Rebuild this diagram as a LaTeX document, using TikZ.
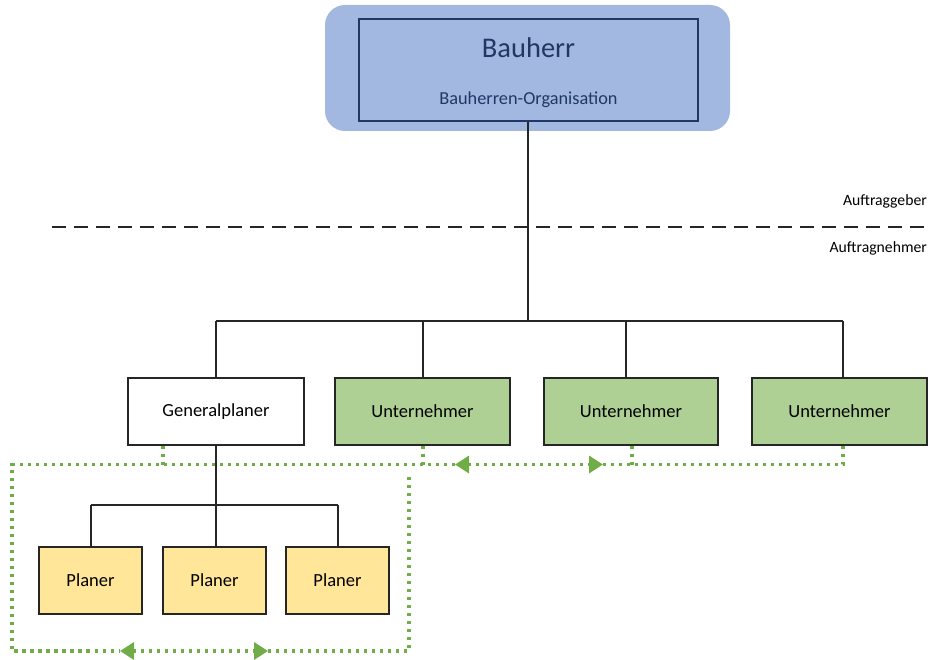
\documentclass[tikz,border=0pt]{standalone}
\usepackage{fontspec}
\setmainfont{Carlito}
\usetikzlibrary{arrows.meta}
\definecolor{bhblue}{HTML}{A2B8E0}
\definecolor{bhtext}{HTML}{203864}
\definecolor{ugreen}{HTML}{AFD095}
\definecolor{pyellow}{HTML}{FFE699}
\definecolor{dotgreen}{HTML}{70AD47}
\tikzset{
  orgbox/.style={draw=black!85, line width=1.2pt, inner sep=0pt, font=\fontsize{18.5}{20}\selectfont},
  tree/.style={draw=black!85, line width=1.2pt},
  greendot/.style={draw=dotgreen, line width=3.3pt, dash pattern=on 3.3pt off 4.7pt},
  gtips/.style={{Triangle[length=14pt,width=17pt]}-{Triangle[length=14pt,width=17pt]}},
  sidelabel/.style={anchor=east, inner sep=0pt, font=\fontsize{15.7}{17}\selectfont},
}
\begin{document}
\begin{tikzpicture}[x=1pt,y=-1pt]
\useasboundingbox (0,0) rectangle (931,660);
% Bauherr
\node[fill=bhblue, rounded corners=20pt, minimum width=405pt, minimum height=126pt, inner sep=0pt] (outer) at (527.5,68) {};
\node[draw=bhtext, line width=1.2pt, minimum width=339pt, minimum height=102pt, inner sep=0pt] (bauherr) at (528.5,70) {};
\node[text=bhtext, font=\fontsize{28.5}{30}\selectfont, inner sep=0pt] (bhtitle) at (528.5,48) {Bauherr};
\node[text=bhtext, font=\fontsize{18.3}{20}\selectfont, inner sep=0pt] (bhsub) at (528.5,100) {Bauherren-Organisation};
% divider
\coordinate (dl) at (52,227);
\coordinate (dr) at (927,227);
\draw[black!85, line width=1.6pt, dash pattern=on 14pt off 8pt] (dl) -- (dr);
\node[sidelabel] (ag) at (927,201) {Auftraggeber};
\node[sidelabel] (an) at (927,248) {Auftragnehmer};
% second level boxes
\node[orgbox, fill=white, minimum width=176pt, minimum height=67pt] (gp) at (216,411.5) {Generalplaner};
\node[orgbox, fill=ugreen, minimum width=175pt, minimum height=67pt] (u1) at (422.5,411.5) {Unternehmer};
\node[orgbox, fill=ugreen, minimum width=174pt, minimum height=67pt] (u2) at (631,411.5) {Unternehmer};
\node[orgbox, fill=ugreen, minimum width=175pt, minimum height=67pt] (u3) at (839.5,411.5) {Unternehmer};
% planers
\node[orgbox, fill=pyellow, minimum width=103pt, minimum height=67pt] (p1) at (90.5,580.5) {Planer};
\node[orgbox, fill=pyellow, minimum width=103pt, minimum height=67pt] (p2) at (214.5,580.5) {Planer};
\node[orgbox, fill=pyellow, minimum width=103pt, minimum height=67pt] (p3) at (337.5,580.5) {Planer};
% tree lines
\coordinate (bus) at (528,321);
\draw[tree] (bauherr.south -| bus) -- (bus);
\draw[tree] (216,321) -- (843,321);
\draw[tree] (216,321) -- (gp.north -| 216,0);
\draw[tree] (423,321) -- (u1.north -| 423,0);
\draw[tree] (626,321) -- (u2.north -| 626,0);
\draw[tree] (843,321) -- (u3.north -| 843,0);
\draw[tree] (gp.south) -- (216,505);
\draw[tree] (91,505) -- (338,505);
\draw[tree] (91,505) -- (p1.north -| 91,0);
\draw[tree] (216,505) -- (p2.north -| 216,0);
\draw[tree] (338,505) -- (p3.north -| 338,0);
% green dotted connections
\coordinate (gl) at (12,464.5);
\coordinate (gbl) at (12,651);
\coordinate (gbr) at (409,651);
\coordinate (gtr) at (409,473);
\coordinate (a1) at (455,464.5);
\coordinate (a2) at (603,464.5);
\coordinate (b1) at (120,651);
\coordinate (b2) at (268,651);
\draw[greendot] (gp.south -| 163,0) -- (163,464.5);
\draw[greendot] (u1.south -| 423,0) -- (423,464.5);
\draw[greendot] (u2.south -| 632,0) -- (632,464.5);
\draw[greendot] (u3.south -| 843,0) -- (843,464.5) -- (a2);
\draw[greendot, gtips] (a1) -- (a2);
\draw[greendot] (a1) -- (gl) -- (gbl) -- (b1);
\draw[greendot, gtips] (b1) -- (b2);
\draw[greendot] (b2) -- (gbr) -- (gtr);
\end{tikzpicture}
\end{document}
